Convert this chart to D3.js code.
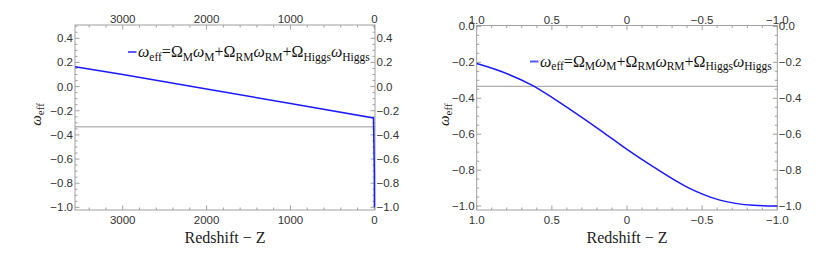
<!DOCTYPE html>
<html>
<head>
<meta charset="utf-8">
<script src="https://cdn.jsdelivr.net/npm/d3@7"></script>
<style>
  body { margin: 0; background: #fff; }
  svg { display: block; }
</style>
</head>
<body>
<svg id="chart" width="830" height="257"></svg>
<script>
// left panel: full redshift range
const leftZ = [3569, 3000, 2000, 1000, 10, 0, -1];
const leftW = [0.165, 0.10, -0.02, -0.14, -0.26, -0.70, -1.0];

// right panel: late-time redshift range
const rightZ = [1.0, 0.827, 0.627, 0.5, 0.382, 0.25, 0.16, 0.0, -0.173, -0.396, -0.618, -0.84, -1.0];
const rightW = [-0.207, -0.254, -0.330, -0.395, -0.460, -0.535, -0.588, -0.685, -0.781, -0.893, -0.967, -0.996, -1.0];

const refLevel = -1 / 3;

const leftXTicks = [3000, 2000, 1000, 0];
const leftYTicks = [0.4, 0.2, 0.0, -0.2, -0.4, -0.6, -0.8, -1.0];
const rightXTicks = [1.0, 0.5, 0, -0.5, -1.0];
const rightYTicks = [0.0, -0.2, -0.4, -0.6, -0.8, -1.0];

const legendParts = [
  ['ω', 'eff', true], ['=Ω', 'M', false], ['ω', 'M', true],
  ['+Ω', 'RM', false], ['ω', 'RM', true],
  ['+Ω', 'Higgs', false], ['ω', 'Higgs', true]
];
const xLabel = 'Redshift − Z';

const svg = d3.select('#chart');
const serif = '"Liberation Serif", "Times New Roman", serif';
const sans = '"Liberation Sans", Arial, sans-serif';
const frameColor = '#a0a0a0';
const labelColor = '#333';

const panels = [
  {
    z: leftZ, w: leftW,
    xDomain: [3569, -8], yDomain: [-1.022, 0.51],
    x0: 75, x1: 375, y0: 25, y1: 210,
    xTicks: leftXTicks, xMinor: 200, yTicks: leftYTicks, yMinor: 0.05,
    xFmt: d => d3.format('d')(d), yFmt: d => d3.format('.1f')(d).replace('-', '−'),
    legendX: 128, legendY: 57, yLabelX: 41, curve: d3.curveLinear
  },
  {
    z: rightZ, w: rightW,
    xDomain: [1, -1], yDomain: [-1.022, 0.005],
    x0: 476.7, x1: 777.3, y0: 25.5, y1: 210,
    xTicks: rightXTicks, xMinor: 0.1, yTicks: rightYTicks, yMinor: 0.05,
    xFmt: d => (d === 0 ? '0' : d3.format('.1f')(d).replace('-', '−')),
    yFmt: d => d3.format('.1f')(d).replace('-', '−'),
    legendX: 530, legendY: 66.5, yLabelX: 449, curve: d3.curveMonotoneX
  }
];

function minorTicks(domain, step) {
  const lo = Math.min(...domain), hi = Math.max(...domain);
  const out = [];
  for (let v = Math.ceil(lo / step) * step; v <= hi + 1e-9; v += step) out.push(+v.toFixed(6));
  return out;
}

panels.forEach(p => {
  const x = d3.scaleLinear().domain(p.xDomain).range([p.x0, p.x1]);
  const y = d3.scaleLinear().domain(p.yDomain).range([p.y1, p.y0]);
  const g = svg.append('g');

  // frame
  g.append('rect')
    .attr('x', p.x0).attr('y', p.y0)
    .attr('width', p.x1 - p.x0).attr('height', p.y1 - p.y0)
    .attr('fill', 'none').attr('stroke', frameColor).attr('stroke-width', 1);

  // inward ticks on all four sides
  const tickLen = 4.5, minorLen = 2.5;
  const isMajor = (v, list) => list.some(t => Math.abs(t - v) < 1e-6);
  minorTicks(p.xDomain, p.xMinor).forEach(v => {
    const len = isMajor(v, p.xTicks) ? tickLen : minorLen;
    g.append('line').attr('x1', x(v)).attr('x2', x(v)).attr('y1', p.y1).attr('y2', p.y1 - len)
      .attr('stroke', frameColor);
    g.append('line').attr('x1', x(v)).attr('x2', x(v)).attr('y1', p.y0).attr('y2', p.y0 + len)
      .attr('stroke', frameColor);
  });
  minorTicks(p.yDomain, p.yMinor).forEach(v => {
    const len = isMajor(v, p.yTicks) ? tickLen : minorLen;
    g.append('line').attr('y1', y(v)).attr('y2', y(v)).attr('x1', p.x0).attr('x2', p.x0 + len)
      .attr('stroke', frameColor);
    g.append('line').attr('y1', y(v)).attr('y2', y(v)).attr('x1', p.x1).attr('x2', p.x1 - len)
      .attr('stroke', frameColor);
  });

  // tick labels
  const lab = { 'font-family': sans, 'font-size': '11.5px', fill: labelColor };
  p.xTicks.forEach(v => {
    [p.y1 + 14, p.y0 - 2].forEach(yy => {
      const t = g.append('text').attr('x', x(v)).attr('y', yy).attr('text-anchor', 'middle').text(p.xFmt(v));
      Object.entries(lab).forEach(([k, val]) => t.attr(k, val));
    });
  });
  p.yTicks.forEach(v => {
    const t1 = g.append('text').attr('x', p.x0 - 2).attr('y', y(v) + 4).attr('text-anchor', 'end').text(p.yFmt(v));
    const t2 = g.append('text').attr('x', p.x1 + 1.5).attr('y', y(v) + 4).attr('text-anchor', 'start').text(p.yFmt(v));
    Object.entries(lab).forEach(([k, val]) => { t1.attr(k, val); t2.attr(k, val); });
  });

  // reference line w = -1/3
  g.append('line')
    .attr('x1', p.x0).attr('x2', p.x1).attr('y1', y(refLevel)).attr('y2', y(refLevel))
    .attr('stroke', '#999').attr('stroke-width', 1);

  // data curve
  const pts = p.z.map((z, i) => [x(z), y(p.w[i])]).sort((a, b) => a[0] - b[0]);
  g.append('path')
    .datum(pts)
    .attr('fill', 'none').attr('stroke', '#1a1aff').attr('stroke-width', 1.5)
    .attr('d', d3.line().curve(p.curve));

  // legend
  g.append('line')
    .attr('x1', p.legendX).attr('x2', p.legendX + 8.5)
    .attr('y1', p.legendY - 5).attr('y2', p.legendY - 5)
    .attr('stroke', '#5a5aff').attr('stroke-width', 2);
  const lt = g.append('text')
    .attr('x', p.legendX + 10).attr('y', p.legendY)
    .attr('font-family', serif).attr('font-size', '16px').attr('fill', '#111');
  legendParts.forEach(([main, sub, it], i) => {
    lt.append('tspan').attr('font-style', it ? 'italic' : 'normal')
      .attr('dy', i === 0 ? 0 : -3.5).text(main);
    lt.append('tspan').attr('font-size', '11.5px').attr('dy', 3.5).text(sub);
  });

  // axis labels
  g.append('text')
    .attr('x', (p.x0 + p.x1) / 2).attr('y', 243)
    .attr('text-anchor', 'middle')
    .attr('font-family', serif).attr('font-size', '16px').attr('fill', '#222')
    .text(xLabel);
  const yl = g.append('text')
    .attr('transform', `translate(${p.yLabelX},${(p.y0 + p.y1) / 2 - 3}) rotate(-90)`)
    .attr('text-anchor', 'middle')
    .attr('font-family', serif).attr('font-size', '15px').attr('fill', '#222');
  yl.append('tspan').attr('font-style', 'italic').text('ω');
  yl.append('tspan').attr('font-size', '11px').attr('dy', 3).text('eff');
});
</script>
</body>
</html>
